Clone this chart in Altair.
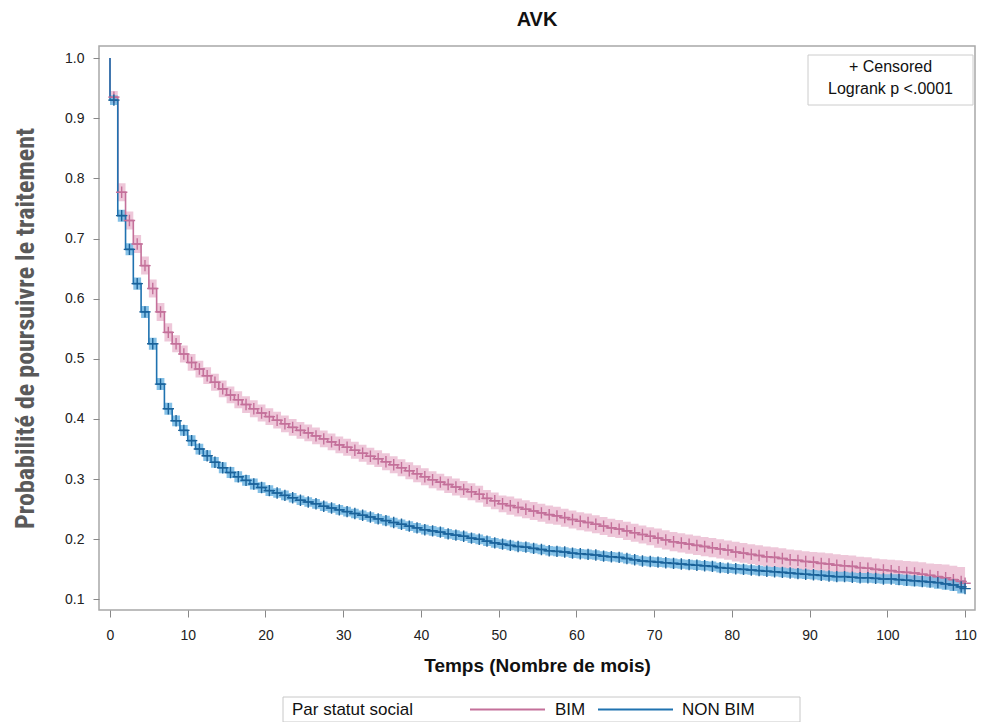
import altair as alt
import pandas as pd

# ---- data (survival value held on [t, t+1)) ----
MONTHS = list(range(0, 111))
GROUPS = ["BIM", "NON BIM"]

BIM_S = [0.935, 0.777, 0.730, 0.691, 0.655, 0.617, 0.578, 0.544, 0.525, 0.508,
         0.494, 0.483, 0.472, 0.461, 0.450, 0.440, 0.432, 0.424, 0.417, 0.410,
         0.404, 0.398, 0.392, 0.386, 0.381, 0.377, 0.372, 0.367, 0.362, 0.357,
         0.353, 0.348, 0.343, 0.338, 0.334, 0.329, 0.324, 0.319, 0.314, 0.309,
         0.304, 0.299, 0.295, 0.291, 0.287, 0.283, 0.279, 0.275, 0.268, 0.264,
         0.259, 0.256, 0.253, 0.250, 0.247, 0.244, 0.241, 0.239, 0.236, 0.233,
         0.230, 0.228, 0.225, 0.222, 0.219, 0.217, 0.214, 0.211, 0.208, 0.205,
         0.202, 0.199, 0.196, 0.194, 0.192, 0.190, 0.188, 0.186, 0.184, 0.182,
         0.179, 0.177, 0.175, 0.173, 0.171, 0.170, 0.168, 0.166, 0.165, 0.163,
         0.162, 0.160, 0.159, 0.157, 0.156, 0.155, 0.153, 0.152, 0.150, 0.149,
         0.148, 0.146, 0.145, 0.144, 0.142, 0.140, 0.138, 0.136, 0.133, 0.130,
         0.127]
BIM_UP = [0.945, 0.792, 0.745, 0.706, 0.670, 0.632, 0.593, 0.559, 0.539, 0.522,
          0.508, 0.497, 0.486, 0.475, 0.464, 0.454, 0.446, 0.438, 0.431, 0.424,
          0.418, 0.412, 0.406, 0.400, 0.395, 0.391, 0.386, 0.381, 0.376, 0.371,
          0.367, 0.362, 0.357, 0.352, 0.348, 0.343, 0.338, 0.333, 0.328, 0.323,
          0.318, 0.313, 0.309, 0.305, 0.301, 0.297, 0.293, 0.289, 0.282, 0.278,
          0.273, 0.271, 0.268, 0.265, 0.262, 0.259, 0.256, 0.254, 0.251, 0.248,
          0.245, 0.243, 0.240, 0.237, 0.234, 0.232, 0.229, 0.226, 0.223, 0.220,
          0.218, 0.215, 0.212, 0.210, 0.208, 0.206, 0.204, 0.202, 0.200, 0.198,
          0.196, 0.194, 0.192, 0.190, 0.188, 0.187, 0.185, 0.183, 0.182, 0.180,
          0.179, 0.178, 0.177, 0.175, 0.174, 0.173, 0.171, 0.170, 0.168, 0.167,
          0.166, 0.165, 0.164, 0.163, 0.162, 0.160, 0.159, 0.158, 0.156, 0.154,
          0.152]
BIM_LO = [0.925, 0.762, 0.715, 0.676, 0.640, 0.602, 0.563, 0.529, 0.511, 0.494,
          0.480, 0.469, 0.458, 0.447, 0.436, 0.426, 0.418, 0.410, 0.403, 0.396,
          0.390, 0.384, 0.378, 0.372, 0.367, 0.363, 0.358, 0.353, 0.348, 0.343,
          0.339, 0.334, 0.329, 0.324, 0.320, 0.315, 0.310, 0.305, 0.300, 0.295,
          0.290, 0.285, 0.281, 0.277, 0.273, 0.269, 0.265, 0.261, 0.254, 0.250,
          0.245, 0.241, 0.238, 0.235, 0.232, 0.229, 0.226, 0.224, 0.221, 0.218,
          0.215, 0.213, 0.210, 0.207, 0.204, 0.202, 0.199, 0.196, 0.193, 0.190,
          0.186, 0.183, 0.180, 0.178, 0.176, 0.174, 0.172, 0.170, 0.168, 0.166,
          0.163, 0.161, 0.159, 0.157, 0.155, 0.154, 0.152, 0.150, 0.149, 0.147,
          0.146, 0.144, 0.143, 0.141, 0.140, 0.139, 0.137, 0.136, 0.134, 0.133,
          0.132, 0.130, 0.129, 0.128, 0.126, 0.124, 0.122, 0.120, 0.117, 0.114,
          0.111]

NON_S = [0.930, 0.738, 0.682, 0.625, 0.578, 0.525, 0.458, 0.417, 0.397, 0.381,
         0.364, 0.350, 0.339, 0.328, 0.319, 0.311, 0.304, 0.298, 0.292, 0.286,
         0.281, 0.277, 0.273, 0.269, 0.265, 0.262, 0.259, 0.255, 0.252, 0.249,
         0.246, 0.243, 0.240, 0.237, 0.234, 0.231, 0.228, 0.225, 0.222, 0.219,
         0.216, 0.214, 0.212, 0.209, 0.207, 0.205, 0.202, 0.200, 0.197, 0.194,
         0.192, 0.190, 0.188, 0.187, 0.185, 0.183, 0.181, 0.180, 0.179, 0.177,
         0.176, 0.175, 0.174, 0.172, 0.171, 0.170, 0.168, 0.166, 0.164, 0.163,
         0.162, 0.161, 0.160, 0.159, 0.158, 0.157, 0.156, 0.155, 0.153, 0.152,
         0.151, 0.150, 0.149, 0.148, 0.147, 0.146, 0.145, 0.144, 0.143, 0.142,
         0.141, 0.140, 0.139, 0.138, 0.138, 0.137, 0.136, 0.136, 0.135, 0.134,
         0.134, 0.133, 0.132, 0.131, 0.130, 0.129, 0.128, 0.126, 0.124, 0.121,
         0.118]
NON_UP = [0.938, 0.748, 0.692, 0.635, 0.588, 0.535, 0.468, 0.427, 0.406, 0.390,
          0.373, 0.359, 0.348, 0.337, 0.328, 0.320, 0.313, 0.307, 0.301, 0.295,
          0.290, 0.285, 0.281, 0.277, 0.273, 0.270, 0.267, 0.263, 0.260, 0.257,
          0.254, 0.251, 0.248, 0.245, 0.242, 0.239, 0.236, 0.233, 0.230, 0.227,
          0.224, 0.222, 0.220, 0.217, 0.215, 0.213, 0.210, 0.208, 0.205, 0.202,
          0.200, 0.198, 0.196, 0.195, 0.193, 0.191, 0.189, 0.188, 0.187, 0.185,
          0.184, 0.183, 0.182, 0.180, 0.179, 0.178, 0.176, 0.174, 0.172, 0.171,
          0.170, 0.169, 0.168, 0.167, 0.166, 0.165, 0.164, 0.163, 0.161, 0.160,
          0.159, 0.158, 0.157, 0.156, 0.155, 0.154, 0.153, 0.152, 0.151, 0.150,
          0.149, 0.148, 0.147, 0.146, 0.146, 0.145, 0.144, 0.144, 0.143, 0.142,
          0.142, 0.142, 0.141, 0.140, 0.139, 0.138, 0.138, 0.136, 0.134, 0.132,
          0.129]
NON_LO = [0.922, 0.728, 0.672, 0.615, 0.568, 0.515, 0.448, 0.407, 0.388, 0.372,
          0.355, 0.341, 0.330, 0.319, 0.310, 0.302, 0.295, 0.289, 0.283, 0.277,
          0.272, 0.269, 0.265, 0.261, 0.257, 0.254, 0.251, 0.247, 0.244, 0.241,
          0.238, 0.235, 0.232, 0.229, 0.226, 0.223, 0.220, 0.217, 0.214, 0.211,
          0.208, 0.206, 0.204, 0.201, 0.199, 0.197, 0.194, 0.192, 0.189, 0.186,
          0.184, 0.182, 0.180, 0.179, 0.177, 0.175, 0.173, 0.172, 0.171, 0.169,
          0.168, 0.167, 0.166, 0.164, 0.163, 0.162, 0.160, 0.158, 0.156, 0.155,
          0.154, 0.153, 0.152, 0.151, 0.150, 0.149, 0.148, 0.147, 0.145, 0.144,
          0.143, 0.142, 0.141, 0.140, 0.139, 0.138, 0.137, 0.136, 0.135, 0.134,
          0.133, 0.132, 0.131, 0.130, 0.130, 0.129, 0.128, 0.128, 0.127, 0.126,
          0.126, 0.124, 0.123, 0.122, 0.121, 0.120, 0.118, 0.116, 0.114, 0.110,
          0.107]

X_TICKS = list(range(0, 111, 10))
Y_TICKS = [0.1, 0.2, 0.3, 0.4, 0.5, 0.6, 0.7, 0.8, 0.9, 1.0]

LINE_COLORS = ["#c4709a", "#1f72b0"]
BAND_COLORS = ["#ebbdd2", "#6fb5e2"]
CENSOR_COLORS = ["#c4709a", "#1b6299"]

# ---- tables ----
line_rows, band_rows, cens_rows = [], [], []
for g, s, lo, up in [("BIM", BIM_S, BIM_LO, BIM_UP), ("NON BIM", NON_S, NON_LO, NON_UP)]:
    line_rows.append({"group": g, "t": 0, "s": 1.0})
    for i, m in enumerate(MONTHS):
        line_rows.append({"group": g, "t": m, "s": s[i]})
        band_rows.append({"group": g, "t": m, "lo": lo[i], "up": up[i]})
        ct = m + 0.5 if m < MONTHS[-1] else m
        cens_rows.append({"group": g, "t": ct, "s": s[i]})
lines = pd.DataFrame(line_rows)
bands = pd.DataFrame(band_rows)
cens = pd.DataFrame(cens_rows)

FONT = "Liberation Sans, Arial, sans-serif"
NARROW = "Liberation Sans Narrow, Roboto Condensed, DejaVu Sans Condensed, Liberation Sans"

xscale = alt.Scale(domain=[-1.415, 111.28], nice=False, zero=False)
yscale = alt.Scale(domain=[0.0825, 1.02], nice=False, zero=False)

xaxis = alt.Axis(values=X_TICKS, title="Temps (Nombre de mois)", grid=False,
                 domain=False, tickSize=7, tickColor="#888", labelFontSize=14,
                 labelColor="#222", labelFont=FONT, labelPadding=11,
                 titleFont=FONT, titleFontSize=19, titleFontWeight="bold",
                 titleColor="#111", titlePadding=14)
yaxis = alt.Axis(values=Y_TICKS, format=".1f", title="Probabilité de poursuivre le traitement",
                 grid=False, domain=False, tickSize=6, tickColor="#888",
                 labelFontSize=14, labelColor="#222", labelFont=FONT, labelPadding=9,
                 titleFont=NARROW, titleFontSize=26, titleFontWeight="bold",
                 titleColor="#5a5a5a", titlePadding=26)

band = alt.Chart(bands).mark_area(interpolate="step-after", opacity=0.85).encode(
    x=alt.X("t:Q", scale=xscale, axis=xaxis),
    y=alt.Y("lo:Q", scale=yscale, axis=yaxis),
    y2="up:Q",
    fill=alt.Fill("group:N", scale=alt.Scale(domain=GROUPS, range=BAND_COLORS), legend=None),
    order=alt.Order("group:N"),
)

line = alt.Chart(lines).mark_line(interpolate="step-after", strokeWidth=1.6).encode(
    x=alt.X("t:Q", scale=xscale),
    y=alt.Y("s:Q", scale=yscale),
    color=alt.Color("group:N", scale=alt.Scale(domain=GROUPS, range=LINE_COLORS), legend=None),
)

censor = alt.Chart(cens).mark_point(shape="M-1,0L1,0M0,-1L0,1", size=130,
                                    filled=False, strokeWidth=1.4, opacity=1).encode(
    x=alt.X("t:Q", scale=xscale),
    y=alt.Y("s:Q", scale=yscale),
    stroke=alt.Stroke("group:N", scale=alt.Scale(domain=GROUPS, range=CENSOR_COLORS), legend=None),
)

# ---- inset annotation box (plot-area pixel offsets) ----
box_df = pd.DataFrame({"txt": ["+ Censored\nLogrank p <.0001"]})
box = alt.Chart(box_df).mark_rect(fill="white", stroke="#cccccc", strokeWidth=1).encode(
    x=alt.value(709), x2=alt.value(874), y=alt.value(9), y2=alt.value(59))
box_text = alt.Chart(box_df).mark_text(font=FONT, fontSize=16, color="#111",
                                       lineBreak="\n", lineHeight=22, align="center",
                                       baseline="middle").encode(
    x=alt.value(791.5), y=alt.value(21), text="txt:N")

# ---- bottom legend (drawn as annotation) ----
LEG_TITLE = "Par statut social"
leg_df = pd.DataFrame({"title": [LEG_TITLE], "a": [GROUPS[0]], "b": [GROUPS[1]]})
leg_box = alt.Chart(leg_df).mark_rect(fill="white", stroke="#c8c8c8", strokeWidth=1).encode(
    x=alt.value(184), x2=alt.value(701), y=alt.value(651), y2=alt.value(676))
leg_title = alt.Chart(leg_df).mark_text(font=FONT, fontSize=17, color="#111", align="left",
                                        baseline="middle").encode(
    x=alt.value(193), y=alt.value(664), text="title:N")
leg_rule_a = alt.Chart(leg_df).mark_rule(color=LINE_COLORS[0], strokeWidth=2).encode(
    x=alt.value(371), x2=alt.value(446), y=alt.value(663.5))
leg_text_a = alt.Chart(leg_df).mark_text(font=FONT, fontSize=17, color="#111", align="left",
                                         baseline="middle").encode(
    x=alt.value(456), y=alt.value(664), text="a:N")
leg_rule_b = alt.Chart(leg_df).mark_rule(color=LINE_COLORS[1], strokeWidth=2).encode(
    x=alt.value(499), x2=alt.value(574), y=alt.value(663.5))
leg_text_b = alt.Chart(leg_df).mark_text(font=FONT, fontSize=17, color="#111", align="left",
                                         baseline="middle").encode(
    x=alt.value(583), y=alt.value(664), text="b:N")

chart = alt.layer(band, line, censor, box, box_text,
                  leg_box, leg_title, leg_rule_a, leg_text_a, leg_rule_b, leg_text_b).properties(
    width=876, height=564,
    autosize=alt.AutoSizeParams(type="none"),
    padding={"left": 91, "top": 38, "right": 2, "bottom": 112},
    title=alt.Title("AVK", font=FONT, fontSize=20, fontWeight="bold", color="#111",
                    anchor="middle", frame="group", offset=16),
).configure_view(stroke="#a8a8a8", strokeWidth=1.5).resolve_scale(
    color="independent", fill="independent", stroke="independent")

chart.save("out.html", embed_options={"renderer": "svg", "actions": False})
